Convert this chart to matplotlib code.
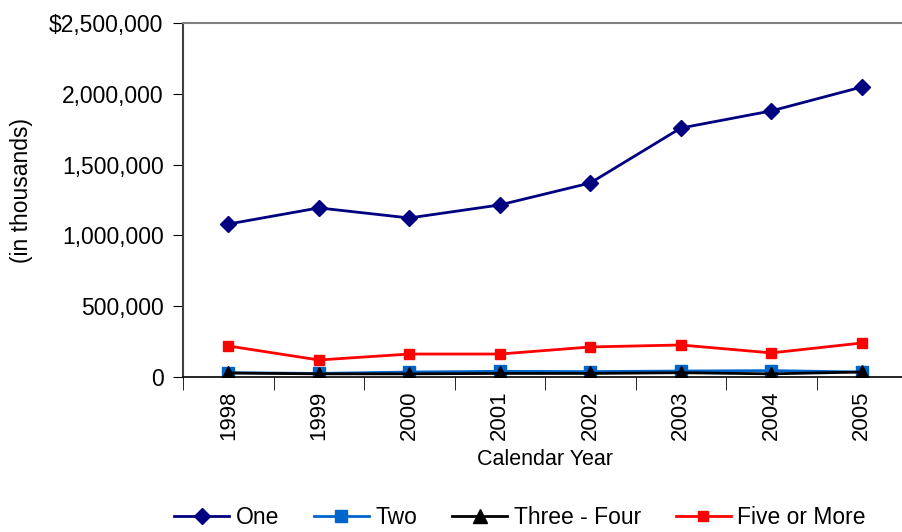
import matplotlib.pyplot as plt
from matplotlib.ticker import FuncFormatter, FixedLocator

plt.rcParams['font.family'] = ['Liberation Sans', 'DejaVu Sans']

years = ['1998', '1999', '2000', '2001', '2002', '2003', '2004', '2005']
one = [1080000, 1194000, 1123000, 1215000, 1370000, 1758000, 1879000, 2048000]
two = [30000, 25000, 35000, 40000, 38000, 42000, 45000, 35000]
three_four = [28000, 22000, 22000, 25000, 25000, 30000, 22000, 35000]
five_more = [219000, 120000, 162000, 162000, 212000, 226000, 170000, 240000]

fig = plt.figure(figsize=(9.03, 5.32), dpi=100)
ax = fig.add_axes([0.2027, 0.2914, 0.8018, 0.6654])

x = range(len(years))
ax.plot(x, one, color='#000080', marker='D', markersize=8.5, lw=2, label='One')
ax.plot(x, two, color='#0066CC', marker='s', markersize=9, lw=2, label='Two')
ax.plot(x, three_four, color='black', marker='^', markersize=10, lw=2, label='Three - Four')
ax.plot(x, five_more, color='#FF0000', marker='s', markersize=7, lw=2, label='Five or More')

ax.set_xlim(-0.5, 7.5)
ax.set_ylim(0, 2500000)
ax.set_yticks([0, 500000, 1000000, 1500000, 2000000, 2500000])
ax.yaxis.set_major_formatter(FuncFormatter(
    lambda v, p: '$2,500,000' if v == 2500000 else f'{int(v):,}'))
ax.set_xticks(list(x))
ax.set_xticklabels(years, rotation=90)
ax.xaxis.set_minor_locator(FixedLocator([i - 0.5 for i in range(9)]))
ax.tick_params(axis='x', which='major', length=0, labelsize=16, pad=10)
ax.tick_params(axis='x', which='minor', length=9, direction='out', color='black')
ax.tick_params(axis='y', length=7, labelsize=16.5, direction='out', pad=7)

ax.spines['right'].set_visible(False)
ax.spines['top'].set_color('#808080')
ax.spines['top'].set_linewidth(1.5)
ax.spines['left'].set_color('#404040')
ax.spines['left'].set_linewidth(1.5)
ax.spines['bottom'].set_linewidth(1.2)

ax.set_xlabel('Calendar Year', fontsize=15.5, labelpad=6)
ax.set_ylabel('(in thousands)', fontsize=16.5)
ax.yaxis.set_label_coords(-0.207, 0.528)

fig.legend(loc='center', bbox_to_anchor=(0.576, 0.028), ncol=4, frameon=False,
           fontsize=16.5, handlelength=2.4, columnspacing=1.5, handletextpad=0.3,
           borderaxespad=0)

fig.savefig('out.png', dpi=100)
